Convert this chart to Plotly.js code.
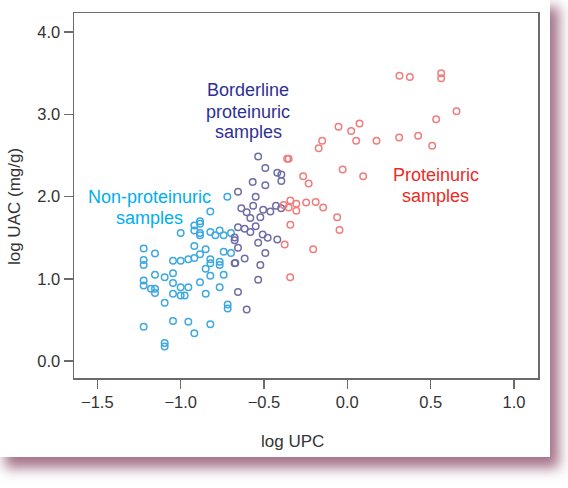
<!DOCTYPE html>
<html>
<head>
<meta charset="utf-8">
<script src="https://cdn.plot.ly/plotly-3.0.1.min.js"></script>
<style>
  html, body { margin: 0; padding: 0; background: #ffffff; width: 568px; height: 488px; overflow: hidden; }
  #card { position: absolute; left: 0; top: 0; width: 550px; height: 457px; background: #ffffff;
          box-shadow: 7px 9px 12px 2px rgba(135, 70, 100, 0.75); }
  #chart { position: absolute; left: 0; top: 0; width: 568px; height: 488px; }
</style>
</head>
<body>
<div id="card"></div>
<div id="chart"></div>
<script>
// Non-proteinuric samples (cyan)
const nonX = [
  -0.720, -0.822, -0.884, -0.884, -0.884, -0.884, -0.918, -0.918, -1.000, -0.822,
  -0.792, -0.766, -0.742, -0.698, -0.918, -0.850, -0.884, -0.918, -0.954, -1.000,
  -1.046, -0.822, -0.822, -0.766, -0.766, -0.742, -0.698, -0.850, -0.822, -0.742,
  -0.884, -0.766, -1.222, -1.222, -1.222, -1.154, -1.154, -1.096, -1.046, -1.046,
  -1.222, -1.222, -1.178, -1.154, -1.154, -1.000, -0.954, -1.046, -1.000, -0.976,
  -0.850, -1.096, -0.718, -0.718, -1.222, -1.046, -0.954, -0.918, -0.822, -1.096,
  -1.096
];
const nonY = [
  2.00, 1.82, 1.70, 1.67, 1.56, 1.53, 1.65, 1.59, 1.56, 1.57,
  1.53, 1.59, 1.53, 1.56, 1.40, 1.36, 1.30, 1.255, 1.24, 1.22,
  1.22, 1.24, 1.19, 1.21, 1.17, 1.33, 1.315, 1.125, 1.04, 1.05,
  0.96, 0.90, 1.37, 1.23, 1.17, 1.31, 1.05, 1.02, 1.07, 0.95,
  0.98, 0.92, 0.88, 0.88, 0.83, 0.90, 0.90, 0.82, 0.80, 0.80,
  0.82, 0.71, 0.69, 0.64, 0.42, 0.49, 0.48, 0.34, 0.45, 0.22,
  0.18
];

// Borderline proteinuric samples (purple)
const borderX = [
  -0.535, -0.492, -0.420, -0.396, -0.396, -0.568, -0.492, -0.656, -0.550, -0.636,
  -0.604, -0.565, -0.582, -0.522, -0.505, -0.462, -0.428, -0.397, -0.656, -0.616,
  -0.582, -0.550, -0.508, -0.478, -0.420, -0.676, -0.676, -0.656, -0.535, -0.492,
  -0.616, -0.676, -0.672, -0.522, -0.535, -0.656, -0.604
];
const borderY = [
  2.49, 2.35, 2.29, 2.27, 2.19, 2.18, 2.14, 2.06, 2.00, 1.86,
  1.81, 1.89, 1.74, 1.75, 1.84, 1.82, 1.89, 1.86, 1.63, 1.61,
  1.57, 1.64, 1.54, 1.50, 1.48, 1.505, 1.47, 1.38, 1.44, 1.315,
  1.25, 1.19, 1.195, 1.17, 0.99, 0.84, 0.63
];

// Proteinuric samples (red)
const protX = [
  0.313, 0.375, 0.563, 0.563, 0.655, 0.533, -0.053, 0.023, 0.073, -0.151,
  -0.172, 0.053, 0.175, 0.311, 0.425, 0.509, -0.361, -0.352, -0.265, -0.232,
  -0.028, 0.095, -0.342, -0.306, -0.382, -0.352, -0.306, -0.247, -0.190, -0.145,
  -0.061, -0.047, -0.342, -0.376, -0.205, -0.343
];
const protY = [
  3.47, 3.455, 3.50, 3.44, 3.04, 2.94, 2.85, 2.80, 2.89, 2.68,
  2.59, 2.68, 2.68, 2.72, 2.74, 2.62, 2.46, 2.46, 2.25, 2.16,
  2.33, 2.25, 1.955, 1.915, 1.90, 1.87, 1.83, 1.93, 1.935, 1.87,
  1.75, 1.595, 1.66, 1.42, 1.36, 1.02
];

const xTicks = [-1.5, -1.0, -0.5, 0.0, 0.5, 1.0];
const yTicks = [0.0, 1.0, 2.0, 3.0, 4.0];

// Group labels, one entry per text line
const labelLines = [
  { text: 'Borderline',      x: -0.594, y: 3.300, color: '#2e3192' },
  { text: 'proteinuric',     x: -0.594, y: 3.035, color: '#2e3192' },
  { text: 'samples',         x: -0.594, y: 2.790, color: '#2e3192' },
  { text: 'Non-proteinuric', x: -1.188, y: 2.000, color: '#00aeef' },
  { text: 'samples',         x: -1.188, y: 1.745, color: '#00aeef' },
  { text: 'Proteinuric',     x: 0.529,  y: 2.267, color: '#ee2a24' },
  { text: 'samples',         x: 0.529,  y: 2.012, color: '#ee2a24' }
];

const FONT = 'Liberation Sans, Arial, Helvetica, sans-serif';

function series(x, y, color, name) {
  return {
    type: 'scatter', mode: 'markers', x: x, y: y, name: name,
    marker: { symbol: 'circle-open', size: 6.5, color: color, line: { color: color, width: 1.5 } },
    hoverinfo: 'x+y'
  };
}

const data = [
  series(nonX, nonY, '#3ea8e2', 'Non-proteinuric samples'),
  series(borderX, borderY, '#6e6ea6', 'Borderline proteinuric samples'),
  series(protX, protY, '#f07c7c', 'Proteinuric samples')
];

const axisCommon = {
  showgrid: false, zeroline: false, showline: true, mirror: true,
  linecolor: '#6b6b6b', linewidth: 1.5,
  ticks: 'outside', ticklen: 9, tickwidth: 1.5, tickcolor: '#6b6b6b',
  tickfont: { family: FONT, size: 16.5, color: '#333333' },
  tickformat: '.1f', automargin: false
};

const annotations = labelLines.map(l => ({
  x: l.x, y: l.y, xref: 'x', yref: 'y', showarrow: false, text: l.text,
  xanchor: 'center', yanchor: 'middle',
  font: { family: FONT, size: 18, color: l.color }
}));

// Axis titles
annotations.push({
  x: 0.47, y: -0.175, xref: 'paper', yref: 'paper', showarrow: false,
  xanchor: 'center', yanchor: 'middle', text: 'log UPC',
  font: { family: FONT, size: 17, color: '#333333' }
});
annotations.push({
  x: -0.128, y: 0.47, xref: 'paper', yref: 'paper', showarrow: false,
  xanchor: 'center', yanchor: 'middle', textangle: -90, text: 'log UAC (mg/g)',
  font: { family: FONT, size: 17, color: '#333333' }
});

const layout = {
  width: 568, height: 488,
  paper_bgcolor: 'rgba(0,0,0,0)', plot_bgcolor: '#ffffff',
  margin: { l: 74, r: 30, t: 13, b: 110 },
  showlegend: false,
  font: { family: FONT, color: '#333333' },
  xaxis: Object.assign({}, axisCommon, {
    range: [-1.64, 1.144], tickmode: 'array', tickvals: xTicks
  }),
  yaxis: Object.assign({}, axisCommon, {
    range: [-0.204, 4.233], tickmode: 'array', tickvals: yTicks
  }),
  annotations: annotations
};

Plotly.newPlot('chart', data, layout, { displayModeBar: false, staticPlot: true });
</script>
</body>
</html>
